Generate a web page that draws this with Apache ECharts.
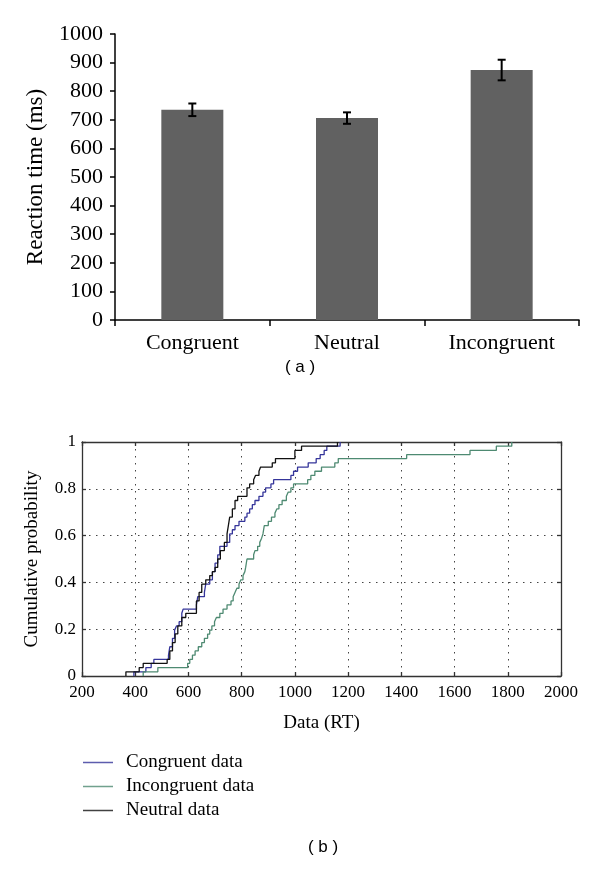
<!DOCTYPE html>
<html>
<head>
<meta charset="utf-8">
<script src="https://cdn.jsdelivr.net/npm/echarts@6/dist/echarts.min.js"></script>
<style>
html,body{margin:0;padding:0;background:#fff;}
#c{width:600px;height:872px;}
</style>
</head>
<body>
<div id="c"></div>
<script>
// ---- Panel (a): mean reaction times ----
const barCategories = ['Congruent', 'Neutral', 'Incongruent'];
const barMeans = [735, 706, 874];
const barErrors = [22, 20, 36];

// ---- Panel (b): empirical cumulative distributions (step corners) ----
const congruentRT = [395, 395, 440, 460, 470, 525, 530, 540, 548, 555, 565, 575, 580, 630, 635, 660, 665, 680, 690, 700, 710, 718, 745, 755, 765, 775, 790, 812, 820, 830, 840, 850, 865, 880, 890, 910, 920, 985, 995, 1010, 1050, 1080, 1095, 1110, 1120, 1170];
const congruentP = [0, 0.018, 0.036, 0.054, 0.071, 0.089, 0.125, 0.161, 0.196, 0.214, 0.232, 0.268, 0.286, 0.304, 0.339, 0.357, 0.393, 0.411, 0.446, 0.482, 0.518, 0.554, 0.571, 0.607, 0.625, 0.643, 0.661, 0.679, 0.696, 0.714, 0.732, 0.75, 0.768, 0.786, 0.804, 0.821, 0.839, 0.857, 0.875, 0.893, 0.911, 0.929, 0.946, 0.964, 0.982, 1.0];

const incongruentRT = [430, 430, 485, 597, 605, 615, 625, 637, 650, 660, 672, 680, 688, 698, 705, 718, 730, 745, 760, 768, 775, 782, 790, 797, 805, 812, 815, 820, 845, 850, 860, 868, 875, 880, 885, 900, 912, 925, 932, 940, 952, 968, 975, 985, 995, 1048, 1060, 1075, 1100, 1150, 1163, 1420, 1658, 1757, 1815];
const incongruentP = [0, 0.018, 0.036, 0.054, 0.071, 0.089, 0.107, 0.125, 0.143, 0.161, 0.179, 0.196, 0.214, 0.232, 0.25, 0.268, 0.286, 0.304, 0.321, 0.339, 0.357, 0.375, 0.393, 0.411, 0.429, 0.446, 0.464, 0.5, 0.518, 0.536, 0.554, 0.571, 0.589, 0.607, 0.643, 0.661, 0.679, 0.696, 0.714, 0.732, 0.75, 0.768, 0.786, 0.804, 0.821, 0.839, 0.857, 0.875, 0.893, 0.911, 0.929, 0.946, 0.964, 0.982, 1.0];

const neutralRT = [365, 365, 415, 430, 520, 530, 540, 550, 560, 575, 590, 630, 640, 650, 665, 680, 690, 700, 710, 720, 735, 745, 750, 755, 765, 775, 785, 820, 830, 845, 852, 865, 871, 915, 927, 1000, 1025, 1160];
const neutralP = [0, 0.018, 0.036, 0.054, 0.071, 0.107, 0.143, 0.18, 0.214, 0.25, 0.268, 0.321, 0.357, 0.393, 0.411, 0.429, 0.446, 0.464, 0.5, 0.536, 0.571, 0.607, 0.643, 0.679, 0.714, 0.75, 0.768, 0.804, 0.821, 0.839, 0.857, 0.875, 0.893, 0.911, 0.929, 0.964, 0.982, 1.0];

const seriesNames = ['Congruent data', 'Incongruent data', 'Neutral data'];
const seriesColors = ['#35359a', '#4e8a72', '#111111'];

function pairs(xs, ps) { return xs.map((x, i) => [x, ps[i]]); }
const plain = v => String(v);

const serif = '"Liberation Serif", "Times New Roman", serif';
const chart = echarts.init(document.getElementById('c'), null, {renderer: 'canvas'});

const dotted = {color: '#444', width: 1, type: [1.5, 5.5]};
const frame = {color: '#333', width: 1.3};

const option = {
  animation: false,
  backgroundColor: '#fff',
  grid: [
    {left: 115, top: 34, width: 464, height: 286},
    {left: 82, top: 442, width: 479, height: 234}
  ],
  xAxis: [
    {
      gridIndex: 0, type: 'category', data: barCategories,
      axisLine: {lineStyle: {color: '#000', width: 1.5}},
      axisTick: {show: true, length: 6, lineStyle: {color: '#000', width: 1.5}},
      axisLabel: {color: '#000', fontFamily: serif, fontSize: 22, margin: 12}
    },
    {
      gridIndex: 1, type: 'value', min: 200, max: 2000, interval: 200,
      axisLine: {lineStyle: frame},
      axisTick: {inside: true, length: 4, lineStyle: frame},
      axisLabel: {color: '#000', fontFamily: serif, fontSize: 17, margin: 8, formatter: plain},
      splitLine: {show: true, lineStyle: dotted},
      name: 'Data (RT)', nameLocation: 'middle', nameGap: 38,
      nameTextStyle: {color: '#000', fontFamily: serif, fontSize: 19}
    },
    {
      gridIndex: 1, type: 'value', min: 200, max: 2000, interval: 200, position: 'top',
      axisLine: {onZero: false, lineStyle: frame},
      axisTick: {inside: true, length: 4, lineStyle: frame},
      axisLabel: {show: false}, splitLine: {show: false}
    }
  ],
  yAxis: [
    {
      gridIndex: 0, type: 'value', min: 0, max: 1000, interval: 100,
      axisLine: {show: true, lineStyle: {color: '#000', width: 1.5}},
      axisTick: {show: true, length: 5, lineStyle: {color: '#000', width: 1.5}},
      axisLabel: {color: '#000', fontFamily: serif, fontSize: 22, margin: 12, formatter: plain},
      splitLine: {show: false},
      name: 'Reaction time (ms)', nameLocation: 'middle', nameGap: 68,
      nameTextStyle: {color: '#000', fontFamily: serif, fontSize: 23}
    },
    {
      gridIndex: 1, type: 'value', min: 0, max: 1, interval: 0.2,
      axisLine: {show: true, lineStyle: frame},
      axisTick: {show: true, inside: true, length: 4, lineStyle: frame},
      axisLabel: {color: '#000', fontFamily: serif, fontSize: 17, margin: 6},
      splitLine: {show: true, lineStyle: dotted},
      name: 'Cumulative probability', nameLocation: 'middle', nameGap: 40,
      nameTextStyle: {color: '#000', fontFamily: serif, fontSize: 19}
    },
    {
      gridIndex: 1, type: 'value', min: 0, max: 1, interval: 0.2, position: 'right',
      axisLine: {show: true, onZero: false, lineStyle: frame},
      axisTick: {show: true, inside: true, length: 4, lineStyle: frame},
      axisLabel: {show: false}, splitLine: {show: false}
    }
  ],
  legend: {
    data: seriesNames.map((n, i) => ({name: n, icon: 'rect', itemStyle: {color: seriesColors[i], opacity: 0.8}})),
    orient: 'vertical', left: 83, top: 753, padding: 0,
    itemWidth: 30, itemHeight: 1.5, itemGap: 5,
    textStyle: {color: '#000', fontFamily: serif, fontSize: 19, lineHeight: 18, padding: [0, 0, 0, 8]}
  },
  graphic: [
    {type: 'text', x: 300, y: 367, style: {text: '( a )', font: '17px "Liberation Sans", Arial, sans-serif', fill: '#000', align: 'center', verticalAlign: 'middle'}},
    {type: 'text', x: 323, y: 847, style: {text: '( b )', font: '17px "Liberation Sans", Arial, sans-serif', fill: '#000', align: 'center', verticalAlign: 'middle'}}
  ],
  series: [
    {
      type: 'bar', xAxisIndex: 0, yAxisIndex: 0, data: barMeans, z: 2,
      barWidth: 62, itemStyle: {color: '#616161'}, silent: true
    },
    {
      type: 'custom', xAxisIndex: 0, yAxisIndex: 0, z: 5,
      data: barCategories.map((c, i) => [i, barMeans[i], barErrors[i]]),
      encode: {x: 0, y: 1}, silent: true,
      renderItem: function (params, api) {
        const i = api.value(0), m = api.value(1), e = api.value(2);
        const hi = api.coord([i, m + e]);
        const lo = api.coord([i, m - e]);
        const st = {stroke: '#000', lineWidth: 2};
        return {type: 'group', children: [
          {type: 'line', shape: {x1: hi[0], y1: hi[1], x2: lo[0], y2: lo[1]}, style: st},
          {type: 'line', shape: {x1: hi[0] - 4, y1: hi[1], x2: hi[0] + 4, y2: hi[1]}, style: st},
          {type: 'line', shape: {x1: lo[0] - 4, y1: lo[1], x2: lo[0] + 4, y2: lo[1]}, style: st}
        ]};
      }
    },
    {
      name: seriesNames[0], type: 'line', step: 'end', xAxisIndex: 1, yAxisIndex: 1,
      data: pairs(congruentRT, congruentP), symbol: 'none',
      lineStyle: {color: seriesColors[0], width: 1.3}, itemStyle: {color: seriesColors[0]}
    },
    {
      name: seriesNames[1], type: 'line', step: 'end', xAxisIndex: 1, yAxisIndex: 1,
      data: pairs(incongruentRT, incongruentP), symbol: 'none',
      lineStyle: {color: seriesColors[1], width: 1.3}, itemStyle: {color: seriesColors[1]}
    },
    {
      name: seriesNames[2], type: 'line', step: 'end', xAxisIndex: 1, yAxisIndex: 1,
      data: pairs(neutralRT, neutralP), symbol: 'none',
      lineStyle: {color: seriesColors[2], width: 1.3}, itemStyle: {color: seriesColors[2]}
    }
  ]
};
chart.setOption(option);
</script>
</body>
</html>
